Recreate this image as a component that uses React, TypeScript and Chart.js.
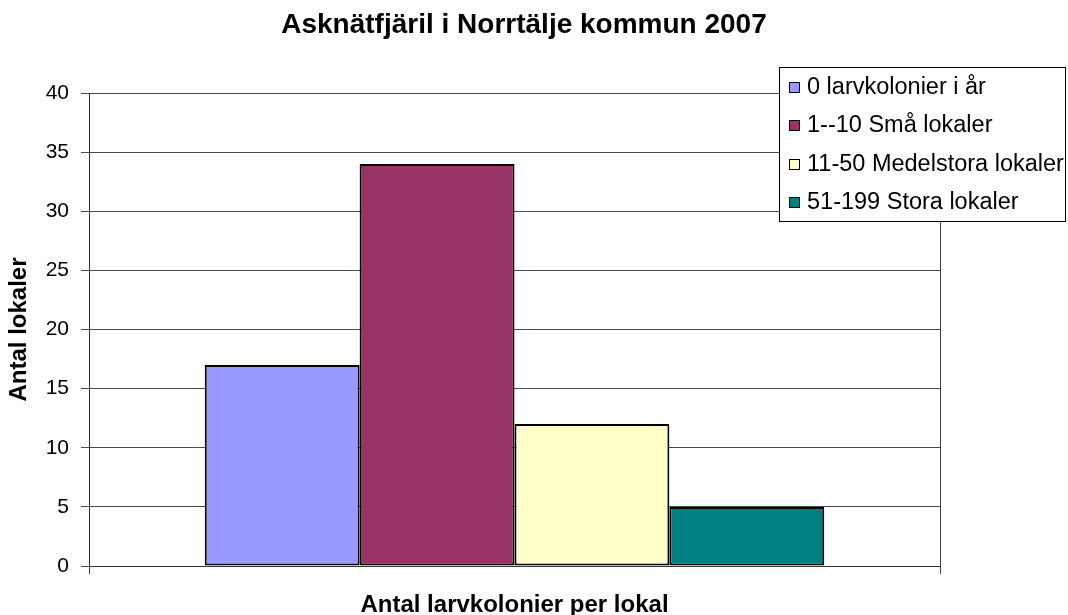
import React, { useEffect, useRef } from "react";
import { Chart, registerables } from "chart.js";

Chart.register(...registerables);

const FONT = "'Liberation Sans', Arial, Helvetica, sans-serif";

const chartTitle = "Asknätfjäril i Norrtälje kommun 2007";
const xTitle = "Antal larvkolonier per lokal";
const yTitle = "Antal lokaler";

const categories = [""];
const seriesLabels = [
  "0 larvkolonier i år",
  "1--10 Små lokaler",
  "11-50 Medelstora lokaler",
  "51-199 Stora lokaler",
];
const seriesNoColonies = [17];
const seriesSmall = [34];
const seriesMedium = [12];
const seriesLarge = [5];
const seriesColors = ["#9999FF", "#993366", "#FFFFCC", "#008080"];

const yMin = 0;
const yMax = 40;
const yStep = 5;

const boxLegend = {
  id: "boxLegend",
  afterDraw(chart: any) {
    const ctx = chart.ctx as CanvasRenderingContext2D;
    ctx.save();
    const x = 779;
    const y = 67;
    const w = 287;
    const h = 155;
    ctx.fillStyle = "#ffffff";
    ctx.fillRect(x, y, w, h);
    ctx.strokeStyle = "#000000";
    ctx.lineWidth = 1;
    ctx.strokeRect(x + 0.5, y + 0.5, w - 1, h - 1);
    ctx.font = `23.5px ${FONT}`;
    ctx.textBaseline = "middle";
    ctx.textAlign = "left";
    chart.data.datasets.forEach((ds: any, i: number) => {
      const cy = Math.round(86.5 + i * 38.5);
      ctx.fillStyle = ds.backgroundColor;
      ctx.fillRect(789, cy - 5, 11, 11);
      ctx.strokeStyle = "#000000";
      ctx.lineWidth = 1;
      ctx.strokeRect(789.5, cy - 4.5, 10, 10);
      ctx.fillStyle = "#000000";
      ctx.fillText(ds.label, 807, cy + 1);
    });
    ctx.restore();
  },
};

export default function App() {
  const canvasRef = useRef<HTMLCanvasElement | null>(null);

  useEffect(() => {
    document.body.style.margin = "0";
    const canvas = canvasRef.current;
    if (!canvas) return;
    const values = [seriesNoColonies, seriesSmall, seriesMedium, seriesLarge];
    const chart = new Chart(canvas, {
      type: "bar",
      data: {
        labels: categories,
        datasets: values.map((v, i) => ({
          label: seriesLabels[i],
          data: v,
          backgroundColor: seriesColors[i],
          borderColor: "#000000",
          borderWidth: 2,
          borderSkipped: false,
          categoryPercentage: 0.728,
          barPercentage: 1,
          yAxisID: "y",
        })),
      },
      options: {
        animation: false,
        responsive: false,
        layout: { padding: { left: 0, right: 20, top: 0, bottom: 0 } },
        plugins: {
          legend: { display: false },
          tooltip: { enabled: false },
          title: {
            display: true,
            text: chartTitle,
            color: "#000000",
            font: { family: FONT, size: 28, weight: "bold" },
            padding: { top: 8, bottom: 51.4 },
          },
        },
        scales: {
          x: {
            offset: true,
            grid: {
              offset: true,
              drawOnChartArea: true,
              drawTicks: true,
              tickLength: 8,
              color: "#404040",
              lineWidth: 1,
            },
            border: { display: true, color: "#333333", width: 1 },
            ticks: { display: false },
            title: {
              display: true,
              text: xTitle,
              color: "#000000",
              font: { family: FONT, size: 24, weight: "bold", lineHeight: 0.8 },
              padding: 0,
            },
            afterFit(scale: any) {
              scale.height = 49;
            },
          },
          y: {
            min: yMin,
            max: yMax,
            position: "left",
            grid: {
              color: "#4a4a4a",
              lineWidth: 1,
              tickLength: 8,
            },
            border: { display: true, color: "#333333", width: 1 },
            ticks: {
              stepSize: yStep,
              color: "#000000",
              padding: 12,
              font: { family: FONT, size: 21 },
            },
            title: {
              display: true,
              text: yTitle,
              color: "#000000",
              font: { family: FONT, size: 24, weight: "bold" },
              padding: { top: 5, bottom: 0 },
            },
            afterFit(scale: any) {
              scale.width = 89;
            },
          },
          y2: {
            position: "right",
            display: true,
            grid: { display: false, drawTicks: false },
            border: { display: false },
            ticks: { display: false },
            afterFit(scale: any) {
              scale.width = 108;
            },
          },
        },
      } as any,
      plugins: [boxLegend],
    });
    return () => chart.destroy();
  }, []);

  return (
    <div style={{ width: 1068, height: 615, background: "#ffffff" }}>
      <canvas ref={canvasRef} width={1068} height={615} style={{ display: "block" }} />
    </div>
  );
}
